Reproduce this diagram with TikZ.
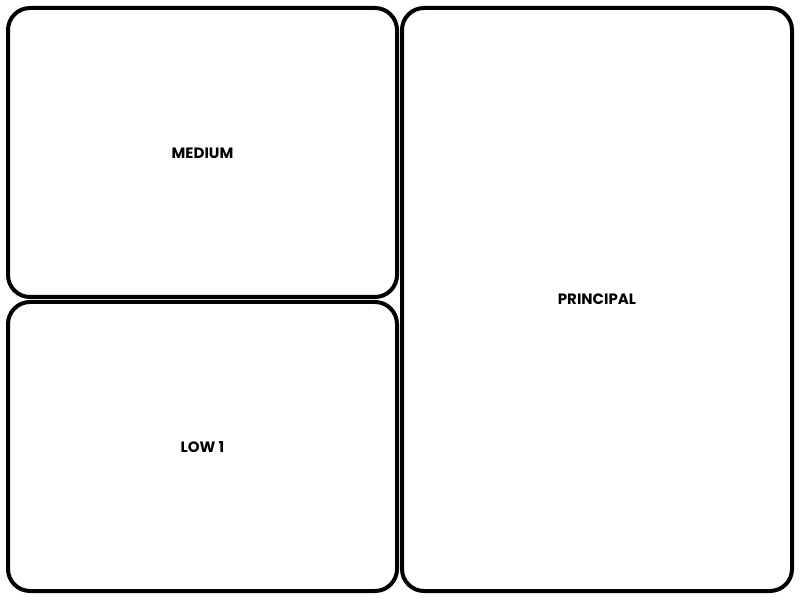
\documentclass[tikz,border=0pt]{standalone}
\usepackage{fontspec}
\setmainfont{Poppins}
\begin{document}
\begin{tikzpicture}[x=1pt,y=1pt,
  panel/.style={draw=black,line width=4pt,rounded corners=22pt},
  label/.style={font=\fontsize{15}{17}\selectfont\bfseries}]
\useasboundingbox (0,0) rectangle (800,600);
% three framed panels
\draw[panel] (8,592) rectangle (397,303);
\draw[panel] (8,298) rectangle (397,9);
\draw[panel] (402,592) rectangle (792,9);
\node[label] (medium) at (202.5,447) {MEDIUM};
\node[label] (low) at (202.5,153) {LOW 1};
\node[label] (principal) at (597,301) {PRINCIPAL};
\end{tikzpicture}
\end{document}
